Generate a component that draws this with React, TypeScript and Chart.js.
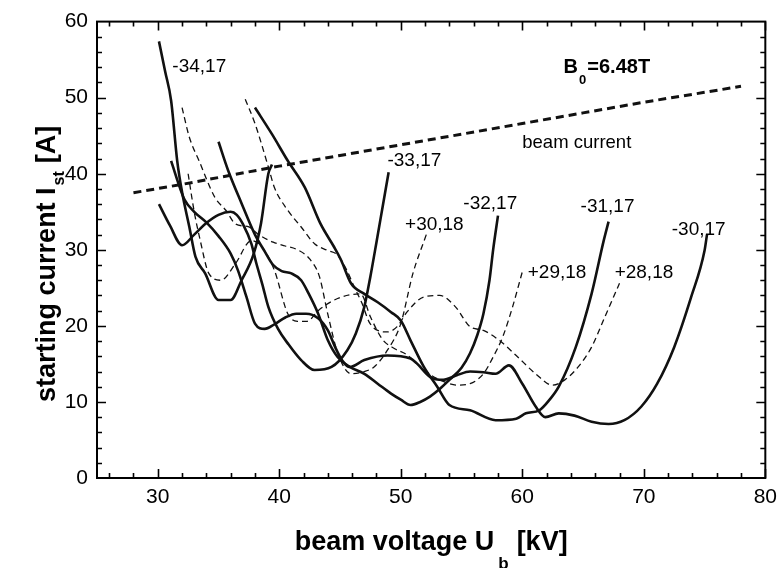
import React, { useEffect, useRef } from "react";
import { Chart, registerables } from "chart.js";

Chart.register(...registerables);

const FONT = "'Liberation Sans', Arial, Helvetica, sans-serif";

// Axis tick labels
const xTickValues = [30, 40, 50, 60, 70, 80];
const yTickValues = [0, 10, 20, 30, 40, 50, 60];

// Beam current
const beamVoltage = [28, 32, 36, 40, 45, 50, 55, 60, 65, 70, 75, 78];
const beamCurrent = [37.5, 38.6, 39.8, 41.0, 42.4, 43.8, 45.2, 46.6, 48.0, 49.4, 50.7, 51.5];

// TE-34,17
const m34_17_U = [30.1, 30.6, 31.1, 31.6, 32.0, 32.6, 33.1, 33.9, 35.0, 36.0, 36.9, 37.9, 38.5, 39.1, 39.4];
const m34_17_I = [57.4, 53.5, 49.6, 41.7, 37.6, 33.0, 29.1, 26.9, 23.4, 23.4, 26.0, 29.5, 33.5, 40.0, 41.2];

// TE-33,17
const m33_17_U = [30.1, 31.0, 32.0, 33.0, 33.9, 35.0, 36.0, 36.5, 37.0, 37.7, 38.1, 38.6, 39.1, 39.9, 40.7, 41.8, 42.9, 44.3, 45.6, 46.3, 47.0, 47.5, 48.0, 48.5, 49.0];
const m33_17_I = [36.0, 33.2, 30.6, 32.0, 33.4, 34.6, 35.0, 34.6, 33.4, 30.8, 28.3, 25.5, 22.5, 19.6, 17.7, 15.5, 14.2, 14.6, 16.8, 19.0, 22.5, 26.5, 31.0, 35.6, 40.2];

// TE-32,17
const m32_17_U = [35.0, 35.8, 36.9, 38.0, 38.8, 39.5, 40.2, 41.0, 41.8, 42.4, 43.2, 44.0, 44.8, 45.8, 47.0, 48.1, 49.2, 50.0, 50.8, 51.6, 52.4, 53.2, 54.0, 55.0, 55.7, 56.3, 56.8, 57.3, 57.6, 58.0];
const m32_17_I = [44.2, 40.4, 36.1, 32.0, 29.8, 28.0, 27.2, 26.9, 26.0, 24.3, 21.6, 18.1, 15.9, 14.6, 13.7, 12.4, 11.1, 10.3, 9.6, 10.0, 10.7, 11.7, 12.9, 14.5, 16.4, 18.8, 21.6, 26.0, 30.0, 34.5];

// TE-31,17
const m31_17_U = [38.0, 39.4, 40.7, 42.1, 43.4, 44.5, 45.1, 45.9, 47.0, 48.1, 49.2, 50.0, 50.8, 51.9, 53.0, 54.0, 55.7, 57.8, 59.5, 60.3, 61.4, 62.2, 63.0, 64.4, 65.7, 66.7, 67.1];
const m31_17_I = [48.7, 45.2, 41.7, 38.2, 33.4, 30.4, 28.6, 25.6, 24.2, 23.1, 21.8, 20.7, 18.1, 14.6, 12.0, 9.6, 8.9, 7.6, 7.8, 8.5, 8.9, 10.2, 12.0, 17.2, 24.2, 31.2, 33.7];

// TE-30,17
const m30_17_U = [31.1, 31.6, 32.2, 33.0, 34.0, 35.0, 36.0, 36.6, 37.3, 38.0, 38.8, 39.6, 40.5, 41.4, 42.2, 43.2, 44.0, 44.6, 45.2, 45.8, 47.0, 48.9, 50.8, 51.3, 52.4, 53.5, 54.6, 55.7, 56.8, 57.8, 58.9, 60.0, 61.1, 61.9, 63.0, 64.3, 65.7, 67.1, 68.4, 69.8, 71.1, 72.5, 73.9, 75.0, 75.2];
const m30_17_I = [41.7, 39.2, 36.6, 35.0, 33.6, 31.8, 29.5, 27.3, 23.8, 20.3, 19.6, 20.2, 21.1, 21.6, 21.6, 21.0, 19.4, 17.2, 15.4, 14.6, 15.5, 16.1, 15.7, 15.1, 13.3, 12.9, 13.5, 14.0, 13.9, 13.7, 14.8, 12.4, 9.4, 8.0, 8.5, 8.2, 7.4, 7.1, 7.6, 9.4, 12.4, 17.2, 23.8, 29.9, 32.0];

// TE+30,18
const p30_18_U = [32.0, 32.6, 33.4, 34.7, 35.6, 36.4, 37.5, 38.3, 39.5, 40.5, 41.5, 42.5, 43.3, 44.0, 44.8, 45.9, 47.0, 47.8, 48.9, 50.0, 51.0, 52.1];
const p30_18_I = [48.7, 44.8, 41.7, 36.9, 35.2, 33.4, 33.0, 32.0, 31.0, 30.5, 30.0, 28.8, 26.5, 21.5, 16.5, 13.7, 14.0, 14.6, 16.8, 20.3, 26.9, 32.0];

// TE+29,18
const p29_18_U = [32.5, 33.0, 33.5, 34.2, 35.2, 36.4, 37.7, 38.5, 39.6, 40.7, 41.5, 42.3, 43.2, 44.8, 46.7, 47.5, 48.5, 49.5, 50.5, 51.5, 52.5, 53.5, 54.6, 55.7, 56.8, 57.6, 58.4, 59.2, 60.0];
const p29_18_I = [40.0, 35.0, 31.2, 26.9, 26.0, 28.2, 31.2, 30.5, 27.3, 21.6, 20.6, 20.6, 22.0, 23.6, 24.2, 21.2, 18.2, 17.0, 16.2, 14.8, 13.5, 12.7, 12.2, 12.4, 13.7, 15.9, 18.6, 22.5, 27.1];

// TE+28,18
const p28_18_U = [37.2, 38.0, 39.1, 39.6, 40.7, 41.8, 42.9, 44.0, 44.8, 45.5, 46.2, 46.8, 47.4, 48.1, 48.9, 49.7, 50.5, 51.9, 53.2, 54.5, 55.7, 56.8, 58.1, 59.5, 61.1, 62.5, 63.5, 64.6, 65.7, 66.8, 68.0];
const p28_18_I = [49.8, 46.6, 40.9, 38.2, 35.2, 33.0, 30.8, 29.9, 29.3, 27.5, 25.0, 23.0, 20.5, 19.4, 19.2, 19.9, 21.8, 23.8, 24.0, 22.5, 19.9, 19.4, 18.1, 16.1, 13.7, 12.2, 12.9, 14.6, 17.2, 21.2, 25.6];

// Mode names written next to the curves (anchor in kV / A, left edge, vertical middle)
const modeLabels = [
  { text: "-34,17", u: 31.2, i: 54.0 },
  { text: "-33,17", u: 48.9, i: 41.7 },
  { text: "-32,17", u: 55.15, i: 36.0 },
  { text: "-31,17", u: 64.8, i: 35.7 },
  { text: "-30,17", u: 72.3, i: 32.6 },
  { text: "+30,18", u: 50.35, i: 33.3 },
  { text: "+29,18", u: 60.45, i: 27.0 },
  { text: "+28,18", u: 67.6, i: 27.0 },
];
const beamLabel = { text: "beam current", u: 60.0, i: 44.0 };
const fieldLabel = { u: 63.4, i: 53.3 };

const toPoints = (u: number[], i: number[]) => u.map((v, k) => ({ x: v, y: i[k] }));

const solid = (label: string, u: number[], i: number[]) => ({
  label,
  data: toPoints(u, i),
  borderColor: "#111",
  borderWidth: 2.6,
  pointRadius: 0,
  fill: false,
  cubicInterpolationMode: "monotone" as const,
  borderJoinStyle: "round" as const,
});

const dashed = (label: string, u: number[], i: number[]) => ({
  label,
  data: toPoints(u, i),
  borderColor: "#111",
  borderWidth: 1.3,
  borderDash: [6, 4],
  pointRadius: 0,
  fill: false,
  cubicInterpolationMode: "monotone" as const,
});

type Run = { text: string; font: string; dy: number; gap: number };

function runsWidth(ctx: CanvasRenderingContext2D, runs: Run[]) {
  let w = 0;
  for (const r of runs) {
    ctx.font = r.font;
    w += r.gap + ctx.measureText(r.text).width;
  }
  return w;
}

function drawRuns(ctx: CanvasRenderingContext2D, x: number, y: number, runs: Run[]) {
  let cx = x;
  for (const r of runs) {
    ctx.font = r.font;
    cx += r.gap;
    ctx.fillText(r.text, cx, y + r.dy);
    cx += ctx.measureText(r.text).width;
  }
}

const framePlugin = {
  id: "frameTicksText",
  afterDatasetsDraw(chart: any) {
    const { ctx, chartArea: a, scales } = chart;
    const xs = scales.x;
    const ys = scales.y;
    ctx.save();
    ctx.strokeStyle = "#000";
    ctx.lineWidth = 2;
    ctx.strokeRect(a.left, a.top, a.right - a.left, a.bottom - a.top);
    ctx.lineWidth = 1.6;
    ctx.beginPath();
    for (let v = 26; v <= 80; v += 2) {
      const px = Math.round(xs.getPixelForValue(v)) + 0.5;
      const len = v % 10 === 0 ? 9 : 5;
      ctx.moveTo(px, a.bottom);
      ctx.lineTo(px, a.bottom - len);
      ctx.moveTo(px, a.top);
      ctx.lineTo(px, a.top + len);
    }
    for (let v = 2; v < 60; v += 2) {
      const py = Math.round(ys.getPixelForValue(v)) + 0.5;
      const len = v % 10 === 0 ? 9 : 5;
      ctx.moveTo(a.left, py);
      ctx.lineTo(a.left + len, py);
      ctx.moveTo(a.right, py);
      ctx.lineTo(a.right - len, py);
    }
    ctx.stroke();
    ctx.restore();
  },
  afterDraw(chart: any) {
    const { ctx, chartArea: a, scales } = chart;
    const xs = scales.x;
    const ys = scales.y;
    ctx.save();
    ctx.fillStyle = "#000";

    // curve labels
    ctx.textBaseline = "middle";
    ctx.textAlign = "left";
    ctx.font = `19px ${FONT}`;
    for (const l of modeLabels) {
      ctx.fillText(l.text, xs.getPixelForValue(l.u), ys.getPixelForValue(l.i));
    }
    ctx.font = `18.5px ${FONT}`;
    ctx.fillText(beamLabel.text, xs.getPixelForValue(beamLabel.u), ys.getPixelForValue(beamLabel.i));

    // magnetic field
    ctx.textBaseline = "alphabetic";
    drawRuns(ctx, xs.getPixelForValue(fieldLabel.u), ys.getPixelForValue(fieldLabel.i), [
      { text: "B", font: `bold 20px ${FONT}`, dy: 0, gap: 0 },
      { text: "0", font: `bold 13px ${FONT}`, dy: 11, gap: 1 },
      { text: "=6.48T", font: `bold 20px ${FONT}`, dy: 0, gap: 1 },
    ]);

    // x axis title
    const xRuns: Run[] = [
      { text: "beam voltage U", font: `bold 27px ${FONT}`, dy: 0, gap: 0 },
      { text: "b", font: `bold 17px ${FONT}`, dy: 19, gap: 4 },
      { text: "[kV]", font: `bold 27px ${FONT}`, dy: 0, gap: 8 },
    ];
    const xw = runsWidth(ctx, xRuns);
    drawRuns(ctx, (a.left + a.right) / 2 - xw / 2, a.bottom + 72, xRuns);

    // y axis title
    const yRuns: Run[] = [
      { text: "starting current I", font: `bold 27px ${FONT}`, dy: 0, gap: 0 },
      { text: "st", font: `bold 16px ${FONT}`, dy: 9, gap: 2 },
      { text: "[A]", font: `bold 27px ${FONT}`, dy: 0, gap: 8 },
    ];
    const yw = runsWidth(ctx, yRuns);
    ctx.translate(55, (a.top + a.bottom) / 2 + 14);
    ctx.rotate(-Math.PI / 2);
    drawRuns(ctx, -yw / 2, 0, yRuns);
    ctx.restore();
  },
};

export default function App() {
  const canvasRef = useRef<HTMLCanvasElement | null>(null);

  useEffect(() => {
    const canvas = canvasRef.current;
    if (!canvas) return;
    const chart = new Chart(canvas, {
      type: "line",
      data: {
        datasets: [
          {
            label: "beam current",
            data: toPoints(beamVoltage, beamCurrent),
            borderColor: "#111",
            borderWidth: 3,
            borderDash: [8, 5],
            pointRadius: 0,
            fill: false,
            tension: 0,
          },
          solid("-34,17", m34_17_U, m34_17_I),
          solid("-33,17", m33_17_U, m33_17_I),
          solid("-32,17", m32_17_U, m32_17_I),
          solid("-31,17", m31_17_U, m31_17_I),
          solid("-30,17", m30_17_U, m30_17_I),
          dashed("+30,18", p30_18_U, p30_18_I),
          dashed("+29,18", p29_18_U, p29_18_I),
          dashed("+28,18", p28_18_U, p28_18_I),
        ] as any,
      },
      options: {
        animation: false,
        responsive: false,
        devicePixelRatio: 1,
        layout: { padding: { left: 0, right: 12, top: 21, bottom: 0 } },
        plugins: {
          legend: { display: false },
          tooltip: { enabled: false },
        },
        scales: {
          x: {
            type: "linear",
            min: 25,
            max: 80,
            afterBuildTicks: (s: any) => {
              s.ticks = xTickValues.map((v) => ({ value: v }));
            },
            afterFit: (s: any) => {
              s.height = 90;
            },
            grid: { display: false, drawTicks: false },
            border: { display: false },
            ticks: {
              color: "#000",
              font: { family: FONT, size: 21 },
              padding: 7,
              maxRotation: 0,
              autoSkip: false,
            },
          },
          y: {
            type: "linear",
            min: 0,
            max: 60,
            afterBuildTicks: (s: any) => {
              s.ticks = yTickValues.map((v) => ({ value: v }));
            },
            afterFit: (s: any) => {
              s.width = 97;
            },
            grid: { display: false, drawTicks: false },
            border: { display: false },
            ticks: {
              color: "#000",
              font: { family: FONT, size: 21 },
              padding: 9,
              autoSkip: false,
            },
          },
        },
      },
      plugins: [framePlugin],
    });
    return () => chart.destroy();
  }, []);

  return (
    <div style={{ position: "fixed", left: 0, top: 0, width: 784, height: 568, background: "#fff" }}>
      <canvas ref={canvasRef} width={784} height={568} style={{ display: "block", width: 784, height: 568 }} />
    </div>
  );
}
